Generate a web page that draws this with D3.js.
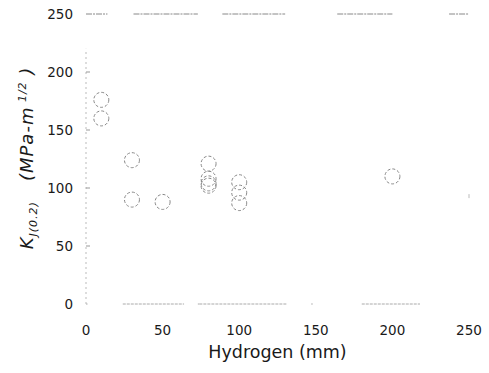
<!DOCTYPE html>
<html>
<head>
<meta charset="utf-8">
<script src="https://cdn.jsdelivr.net/npm/d3@7"></script>
<style>
  body { margin: 0; background: #fff; }
  text { font-family: "DejaVu Sans", Arial, sans-serif; fill: #1a1a1a; }
</style>
</head>
<body>
<svg id="chart" width="489" height="373"></svg>
<script>
// hydrogen content vs K_J(0.2)
const hydrogen = [10, 10, 30, 30, 50, 80, 80, 80, 80, 100, 100, 100, 200];
const kj       = [176, 160, 124, 90, 88, 121, 108, 104, 102, 105, 96, 87, 110];
const xTicks = [0, 50, 100, 150, 200, 250];
const yTicks = [0, 50, 100, 150, 200, 250];

const svg = d3.select('#chart');
const margin = {left: 86, right: 20, top: 14, bottom: 69};
const W = 489, H = 373;

const x = d3.scaleLinear().domain([0, 250]).range([margin.left, W - margin.right]);
const y = d3.scaleLinear().domain([0, 250]).range([H - margin.bottom, margin.top]);

// the frame is faded / broken in the scan, only pieces survive
const topBits = [[0, 14], [31, 73], [89, 130], [164, 200], [237, 250]];
const botBits = [[0, 1], [24, 64], [73, 74], [74, 131], [147, 148], [180, 218]];

const frame = svg.append('g')
    .attr('fill', 'none')
    .attr('stroke-width', 1);

frame.selectAll('.tb')
    .data(topBits)
    .enter().append('line')
    .attr('x1', d => x(d[0])).attr('x2', d => x(d[1]))
    .attr('y1', y(250)).attr('y2', y(250))
    .attr('stroke', '#888')
    .attr('stroke-dasharray', '6,1,2,1');
frame.selectAll('.bb')
    .data(botBits)
    .enter().append('line')
    .attr('x1', d => x(d[0])).attr('x2', d => x(d[1]))
    .attr('y1', y(0)).attr('y2', y(0))
    .attr('stroke', '#aaa')
    .attr('stroke-dasharray', '3,1');
frame.append('line')
    .attr('x1', x(0)).attr('x2', x(0))
    .attr('y1', y(0)).attr('y2', y(220))
    .attr('stroke', '#bbb')
    .attr('stroke-dasharray', '2,3');
frame.append('line')
    .attr('x1', x(250)).attr('x2', x(250))
    .attr('y1', y(93) - 2).attr('y2', y(93) + 2)
    .attr('stroke', '#bbb');

// left ticks
frame.selectAll('.yt')
    .data(yTicks.slice(1, 5))
    .enter().append('line')
    .attr('x1', x(0)).attr('x2', x(0) + 4)
    .attr('y1', d => y(d)).attr('y2', d => y(d))
    .attr('stroke', '#999');

svg.selectAll('.ylab')
    .data(yTicks)
    .enter().append('text')
    .attr('x', x(0) - 13)
    .attr('y', d => y(d) + 5)
    .attr('text-anchor', 'end')
    .attr('font-size', 13.5)
    .text(d => d);

svg.selectAll('.xlab')
    .data(xTicks)
    .enter().append('text')
    .attr('x', d => x(d))
    .attr('y', y(0) + 31)
    .attr('text-anchor', 'middle')
    .attr('font-size', 13.5)
    .text(d => d);

// points
svg.append('g')
    .selectAll('circle')
    .data(hydrogen.map((h, i) => ({h: h, k: kj[i]})))
    .enter().append('circle')
    .attr('cx', d => x(d.h))
    .attr('cy', d => y(d.k))
    .attr('r', 7.5)
    .attr('fill', 'none')
    .attr('stroke', '#888')
    .attr('stroke-width', 1)
    .attr('stroke-dasharray', '3,2');

// axis titles
svg.append('text')
    .attr('x', (x(0) + x(250)) / 2)
    .attr('y', 358)
    .attr('text-anchor', 'middle')
    .attr('font-size', 17.5)
    .text('Hydrogen (mm)');

const yt = svg.append('text')
    .attr('transform', 'translate(33,' + 158 + ') rotate(-90)')
    .attr('text-anchor', 'middle')
    .attr('font-size', 18)
    .attr('letter-spacing', 1)
    .attr('font-style', 'italic');
yt.append('tspan').text('K');
yt.append('tspan').attr('font-size', 11).attr('dy', 4).text('J(0.2)');
yt.append('tspan').attr('dy', -4).text('\u00a0\u00a0\u00a0(MPa-m');
yt.append('tspan').attr('font-size', 11).attr('dy', -7).text('\u00a01/2');
yt.append('tspan').attr('dy', 7).text('\u00a0)');
</script>
</body>
</html>
